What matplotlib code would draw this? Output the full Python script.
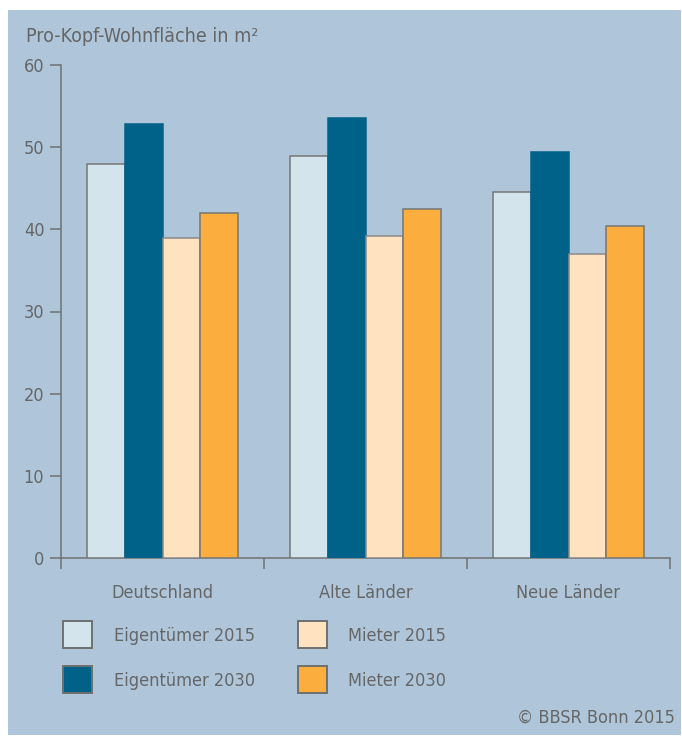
import matplotlib
matplotlib.use("Agg")
import matplotlib.pyplot as plt
from matplotlib import font_manager
from matplotlib.patches import Rectangle
import numpy as np

regions = ["Deutschland", "Alte Länder", "Neue Länder"]
series_names = ["Eigentümer 2015", "Eigentümer 2030", "Mieter 2015", "Mieter 2030"]
eigentuemer_2015 = [48.0, 48.9, 44.6]
eigentuemer_2030 = [52.8, 53.6, 49.4]
mieter_2015 = [38.9, 39.2, 37.0]
mieter_2030 = [42.0, 42.5, 40.4]
y_ticks = [0, 10, 20, 30, 40, 50, 60]

fills = ["#D4E4EC", "#006189", "#FFE2BF", "#FBAE3E"]
edges = ["#767676", "#006189", "#8a8a8a", "#767676"]
bg = "#AFC6DA"
txt = "#666666"
axc = "#707070"

names = {f.name for f in font_manager.fontManager.ttflist}
if "Liberation Sans Narrow" in names:
    plt.rcParams["font.family"] = ["Liberation Sans Narrow", "DejaVu Sans"]
else:
    plt.rcParams["font.family"] = ["DejaVu Sans"]
    plt.rcParams["font.stretch"] = "condensed"
fs = 13

W, H = 682, 744
fig = plt.figure(figsize=(W / 100, H / 100), dpi=100)
fig.patch.set_facecolor("white")


def fx(px):
    return px / W


def fy(py):
    return 1 - py / H


# blue panel behind everything
fig.patches.append(Rectangle((fx(8), fy(735)), fx(673), 725 / H,
                             transform=fig.transFigure, facecolor=bg,
                             edgecolor="none", zorder=-10))

ax = fig.add_axes([fx(61), fy(558), fx(609), (558 - 65) / H])
ax.set_facecolor("none")

values = [eigentuemer_2015, eigentuemer_2030, mieter_2015, mieter_2030]
bw = 0.187
x = np.arange(len(regions)) + 0.5
for i, vals in enumerate(values):
    ax.bar(x + (i - 1.5) * bw, vals, width=bw, color=fills[i],
           edgecolor=edges[i], linewidth=1.1, zorder=3)

ax.set_xlim(0, 3)
ax.set_ylim(0, 60)
ax.set_yticks(y_ticks)
ax.set_xticks([0, 1, 2, 3])
ax.set_xticklabels([])
ax.set_xticks(x, minor=True)
ax.set_xticklabels(regions, minor=True)
ax.tick_params(axis="x", which="minor", length=0, pad=19, labelsize=fs, labelcolor=txt)
ax.tick_params(axis="x", which="major", length=8, width=1.1, color=axc, direction="out")
ax.tick_params(axis="y", length=8, width=1.1, color=axc, labelsize=fs, labelcolor=txt, pad=4)

for s in ["top", "right"]:
    ax.spines[s].set_visible(False)
for s in ["left", "bottom"]:
    ax.spines[s].set_color(axc)
    ax.spines[s].set_linewidth(1.1)

fig.text(fx(26), fy(36), "Pro-Kopf-Wohnfläche in m²", fontsize=14, color=txt,
         ha="left", va="center")

# legend, two columns
leg_pos = [(63, 621), (63, 666), (298, 621), (298, 666)]
for i, name in enumerate(series_names):
    px, py = leg_pos[i]
    fig.patches.append(Rectangle((fx(px), fy(py + 27)), fx(29), 27 / H,
                                 transform=fig.transFigure, facecolor=fills[i],
                                 edgecolor="#6f6f6f", linewidth=1.4))
    tx = 114 if px < 200 else 348
    fig.text(fx(tx), fy(py + 15), name, fontsize=fs, color=txt, ha="left", va="center")

fig.text(fx(675), fy(718), "© BBSR Bonn 2015", fontsize=fs, color=txt,
         ha="right", va="center")

fig.savefig("out.png", dpi=100)
